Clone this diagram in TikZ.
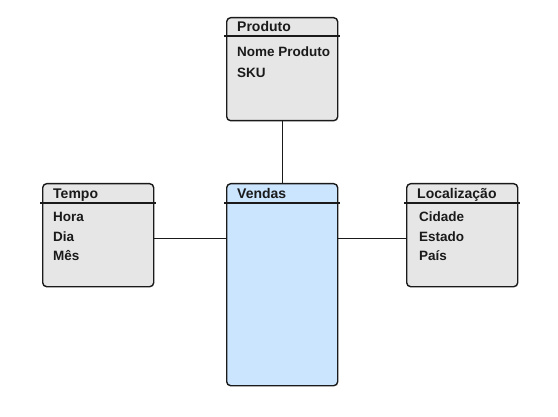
\documentclass[tikz,border=0pt]{standalone}
\usepackage{fontspec}
\setmainfont{Liberation Sans}
\definecolor{dimfill}{HTML}{E6E6E6}
\definecolor{factfill}{HTML}{CCE5FF}
\definecolor{edgecol}{HTML}{1A1A1A}
\begin{document}
\begin{tikzpicture}[x=1pt, y=1pt,
    tablebox/.style={draw=edgecol, line width=1.4pt, rounded corners=4pt, minimum width=111pt, inner sep=0pt, anchor=north west},
    titletext/.style={anchor=base west, inner sep=0pt, font=\fontsize{14}{16}\selectfont\bfseries, text=edgecol},
    attrtext/.style={anchor=base west, inner sep=0pt, font=\fontsize{13.5}{16}\selectfont\bfseries, text=edgecol},
    sepline/.style={draw=edgecol, line width=1.4pt},
    link/.style={draw=edgecol, line width=1.3pt}
]
\useasboundingbox (0,0) rectangle (558,416);

% dimension and fact tables
\node[tablebox, fill=dimfill, minimum height=103pt] (produto) at (226,399) {};
\node[tablebox, fill=dimfill, minimum height=103pt] (tempo) at (42,233) {};
\node[tablebox, fill=factfill, minimum height=202pt] (vendas) at (226,233) {};
\node[tablebox, fill=dimfill, minimum height=103pt] (local) at (406,233) {};

% header separators
\draw[sepline] ([xshift=-2pt,yshift=-19pt]produto.north west) -- ([xshift=2pt,yshift=-19pt]produto.north east);
\draw[sepline] ([xshift=-2pt,yshift=-20pt]tempo.north west) -- ([xshift=2pt,yshift=-20pt]tempo.north east);
\draw[sepline] ([xshift=-2pt,yshift=-20pt]vendas.north west) -- ([xshift=2pt,yshift=-20pt]vendas.north east);
\draw[sepline] ([xshift=-2pt,yshift=-20pt]local.north west) -- ([xshift=2pt,yshift=-20pt]local.north east);

% titles
\node[titletext] (produtotitle) at ([xshift=11pt,yshift=-15pt]produto.north west) {Produto};
\node[titletext] (tempotitle) at ([xshift=11pt,yshift=-15pt]tempo.north west) {Tempo};
\node[titletext] (vendastitle) at ([xshift=11pt,yshift=-15pt]vendas.north west) {Vendas};
\node[titletext] (localtitle) at ([xshift=11pt,yshift=-15pt]local.north west) {Localização};

% attributes
\node[attrtext] (nome) at ([xshift=11pt,yshift=-40pt]produto.north west) {Nome Produto};
\node[attrtext] (sku) at ([xshift=11pt,yshift=-60.5pt]produto.north west) {SKU};

\node[attrtext] (hora) at ([xshift=11pt,yshift=-38.5pt]tempo.north west) {Hora};
\node[attrtext] (dia) at ([xshift=11pt,yshift=-58.5pt]tempo.north west) {Dia};
\node[attrtext] (mes) at ([xshift=11pt,yshift=-77.5pt]tempo.north west) {Mês};

\node[attrtext] (cidade) at ([xshift=13pt,yshift=-38.5pt]local.north west) {Cidade};
\node[attrtext] (estado) at ([xshift=13pt,yshift=-58.5pt]local.north west) {Estado};
\node[attrtext] (pais) at ([xshift=13pt,yshift=-77.5pt]local.north west) {País};

% links
\coordinate (tempolink) at ([yshift=-3.5pt]tempo.east);
\coordinate (locallink) at ([yshift=-3.5pt]local.west);
\draw[link] (produto.south) -- (vendas.north);
\draw[link] (tempolink) -- (vendas.west |- tempolink);
\draw[link] (vendas.east |- locallink) -- (locallink);

\end{tikzpicture}
\end{document}
